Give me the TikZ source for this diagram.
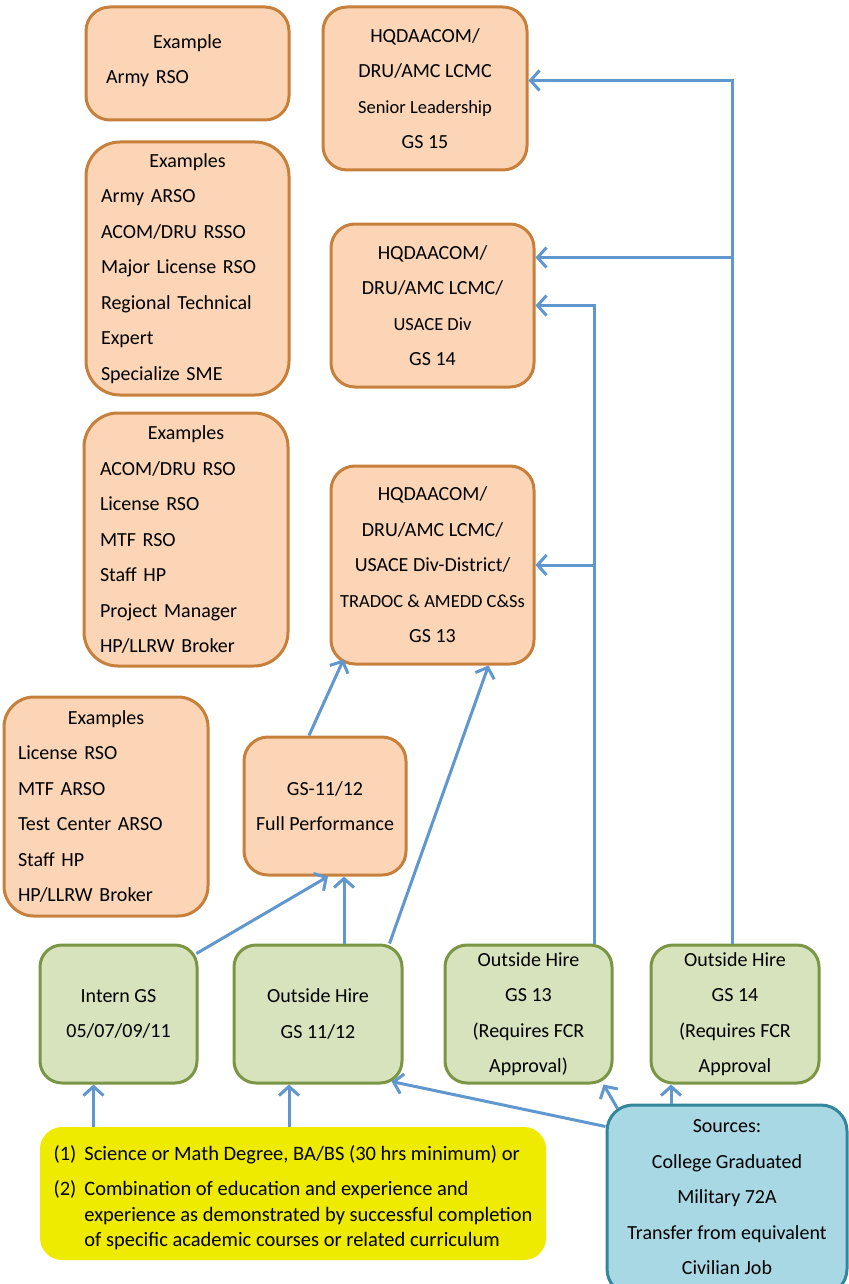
\documentclass[tikz,border=0pt]{standalone}
\usepackage{fontspec}
\setmainfont{Carlito}
\usetikzlibrary{arrows.meta,positioning}
\definecolor{boxorange}{RGB}{251,213,181}
\definecolor{edgeorange}{RGB}{199,127,60}
\definecolor{boxgreen}{RGB}{215,227,188}
\definecolor{edgegreen}{RGB}{122,150,68}
\definecolor{boxyellow}{RGB}{238,235,0}
\definecolor{boxblue}{RGB}{168,216,228}
\definecolor{edgeblue}{RGB}{52,134,156}
\definecolor{arrowblue}{RGB}{96,151,206}
\tikzset{rolebox/.style={rectangle,rounded corners=24pt,line width=3pt,draw=edgeorange,fill=boxorange,inner sep=0pt}}
\tikzset{hirebox/.style={rectangle,rounded corners=22pt,line width=3pt,draw=edgegreen,fill=boxgreen,inner sep=0pt,align=center}}
\tikzset{arr/.style={draw=arrowblue,line width=3pt,-{Straight Barb[length=9pt,width=20pt]}}}
\newcommand{\smalltxt}[1]{{\fontsize{18.5}{32}\selectfont #1}}

\begin{document}
\begin{tikzpicture}[x=1pt,y=-1pt,font=\fontsize{20}{35.5}\selectfont]
  \useasboundingbox (0,0) rectangle (848,1284);
  % example boxes on the left
  \node[rolebox,minimum width=203pt,minimum height=113pt,text width=163pt,align=left,text depth=44pt] (exA) at (187.5,63.5)
       {\makebox[\linewidth]{Example}\\Army RSO};
  \node[rolebox,rounded corners=34pt,minimum width=203pt,minimum height=253pt,text width=173pt,align=left] (exB) at (187.5,268.5)
       {\makebox[\linewidth]{Examples}\\Army ARSO\\ACOM/DRU RSSO\\Major License RSO\\Regional Technical\\Expert\\Specialize SME};
  \node[rolebox,rounded corners=34pt,minimum width=204pt,minimum height=253pt,text width=172pt,align=left] (exC) at (186,539.5)
       {\makebox[\linewidth]{Examples}\\ACOM/DRU RSO\\License RSO\\MTF RSO\\Staff HP\\Project Manager\\HP/LLRW Broker};
  \node[rolebox,rounded corners=30pt,minimum width=204pt,minimum height=219pt,text width=176pt,align=left] (exD) at (106,806.5)
       {\makebox[\linewidth]{Examples}\\License RSO\\MTF ARSO\\Test Center ARSO\\Staff HP\\HP/LLRW Broker};
  % grade boxes
  \node[rolebox,align=center,minimum width=204pt,minimum height=163pt] (hq15) at (425,88.5)
       {HQDAACOM/\\DRU/AMC LCMC\\\smalltxt{Senior Leadership}\\GS 15};
  \node[rolebox,align=center,minimum width=203pt,minimum height=163pt] (hq14) at (432.5,305.5)
       {HQDAACOM/\\DRU/AMC LCMC/\\\smalltxt{USACE Div}\\GS 14};
  \node[rolebox,align=center,minimum width=203pt,minimum height=198pt] (hq13) at (432.5,565)
       {HQDAACOM/\\DRU/AMC LCMC/\\USACE Div-District/\\\smalltxt{TRADOC \& AMEDD C\&Ss}\\GS 13};
  \node[rolebox,align=center,minimum width=162pt,minimum height=138pt] (full) at (325,806)
       {GS-11/12\\Full Performance};
  % entry points
  \node[hirebox,minimum width=157pt,minimum height=138pt] (intern) at (118.5,1014) {Intern GS\\05/07/09/11};
  \node[hirebox,minimum width=168pt,minimum height=138pt] (oh12) at (318,1014) {Outside Hire\\GS 11/12};
  \node[hirebox,minimum width=167pt,minimum height=138pt] (oh13) at (528.5,1014) {Outside Hire\\GS 13\\(Requires FCR\\Approval)};
  \node[hirebox,minimum width=168pt,minimum height=138pt] (oh14) at (735,1014) {Outside Hire\\GS 14\\(Requires FCR\\Approval};
  \node[rectangle,rounded corners=22pt,fill=boxyellow,inner sep=0pt,minimum width=506pt,minimum height=133pt,
        font=\fontsize{20.5}{25.5}\selectfont] (req) at (293,1193.5)
       {\raisebox{-5pt}[\height][\depth]{\begin{tabular}{@{}l@{\hspace{8pt}}l@{}}
        (1) & Science or Math Degree, BA/BS (30 hrs minimum) or\\[10pt]
        (2) & Combination of education and experience and\\
            & experience as demonstrated by successful completion\\
            & of specific academic courses or related curriculum
        \end{tabular}}};
  \node[rectangle,rounded corners=26pt,line width=3pt,draw=edgeblue,fill=boxblue,inner sep=0pt,align=center,
        minimum width=240pt,minimum height=190pt,text depth=6pt] (src) at (727,1200)
       {Sources:\\College Graduated\\Military 72A\\Transfer from equivalent\\Civilian Job};
  % connectors
  \draw[arr] ([xshift=-2pt,yshift=-10pt]intern.north east) -- ([xshift=3pt]full.south);
  \draw[arr] ([xshift=26pt]oh12.north) -- ([xshift=26pt]oh12.north |- full.south);
  \draw[arr] ([xshift=-14pt]oh12.north east) -- ([xshift=56pt]hq13.south);
  \draw[arr] ([xshift=-16pt]full.north) -- ([xshift=14pt,yshift=6pt]hq13.south west);
  \draw[arr] ([xshift=66pt]oh13.north) |- (hq13.east);
  \draw[arr] ([xshift=66pt]oh13.north) |- (hq14.east);
  \draw[arr] ([xshift=-3pt]oh14.north) |- ([yshift=48pt]hq14.east);
  \draw[arr] ([xshift=-3pt]oh14.north) |- ([yshift=8pt]hq15.east);
  \draw[arr] ([xshift=-25pt]intern.south |- req.north) -- ([xshift=-25pt]intern.south);
  \draw[arr] ([xshift=-29pt]oh12.south |- req.north) -- ([xshift=-29pt]oh12.south);
  \draw[arr] ([yshift=-23pt]src.north west) -- ([xshift=-12pt,yshift=3pt]oh12.south east);
  \draw[arr] ([xshift=12pt,yshift=-5pt]src.north west) -- ([xshift=-10pt]oh13.south east);
  \draw[arr] ([xshift=-64pt]oh14.south |- src.north) -- ([xshift=-64pt]oh14.south);
\end{tikzpicture}
\end{document}
